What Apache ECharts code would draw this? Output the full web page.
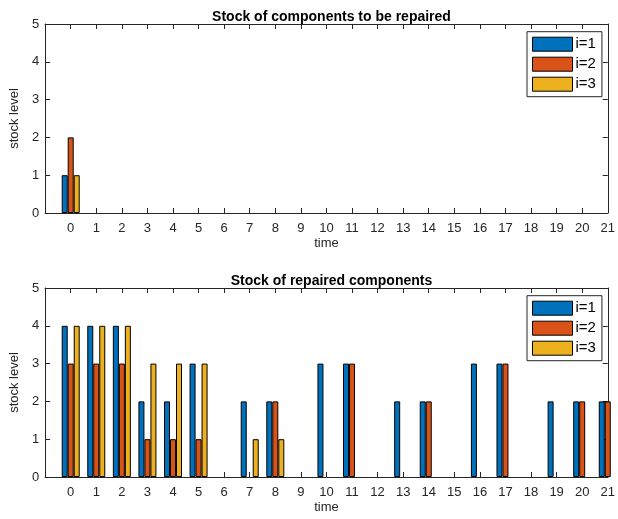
<!DOCTYPE html>
<html>
<head>
<meta charset="utf-8">
<script src="https://cdn.jsdelivr.net/npm/echarts@6/dist/echarts.min.js"></script>
<style>html,body{margin:0;padding:0;background:#fff}#c{width:618px;height:519px}</style>
</head>
<body>
<div id="c"></div>
<script>
var times = [0,1,2,3,4,5,6,7,8,9,10,11,12,13,14,15,16,17,18,19,20,21];
var seriesNames = ['i=1','i=2','i=3'];
var colors = ['#0072BD','#D95319','#EDB120'];
// Stock of components to be repaired
var toRepair1 = [1,0,0,0,0,0,0,0,0,0,0,0,0,0,0,0,0,0,0,0,0,0];
var toRepair2 = [2,0,0,0,0,0,0,0,0,0,0,0,0,0,0,0,0,0,0,0,0,0];
var toRepair3 = [1,0,0,0,0,0,0,0,0,0,0,0,0,0,0,0,0,0,0,0,0,0];
// Stock of repaired components
var repaired1 = [4,4,4,2,2,3,0,2,2,0,3,3,0,2,2,0,3,3,0,2,2,2];
var repaired2 = [3,3,3,1,1,1,0,0,2,0,0,3,0,0,2,0,0,3,0,0,2,2];
var repaired3 = [4,4,4,3,3,3,0,1,1,0,0,0,0,0,0,0,0,0,0,0,0,0];
var titles = ['Stock of components to be repaired','Stock of repaired components'];

var font = 'Liberation Sans, Arial, Helvetica, sans-serif';
var ink = '#262626';
var grids = [{left:40, top:24, width:573.7, height:189},{left:40, top:288, width:573.7, height:189}];

// zero-height bars are left out (they draw nothing visible in the reference)
function pairs(vals){
  return times.map(function(t,i){ return [t, vals[i]]; })
              .filter(function(p){ return p[1] !== 0; });
}

var xAxes = [], yAxes = [], series = [], legends = [], titleArr = [];
[0,1].forEach(function(g){
  xAxes.push({
    gridIndex:g, type:'value', min:-1, max:21, interval:1, position:'bottom',
    name:'time', nameLocation:'middle', nameGap:24,
    nameTextStyle:{color:ink, fontSize:13, fontFamily:font},
    axisLine:{show:true, onZero:false, lineStyle:{color:ink, width:1}},
    axisTick:{show:true, inside:true, length:5, lineStyle:{color:ink}},
    axisLabel:{color:ink, fontSize:13, fontFamily:font, margin:9, showMaxLabel:true,
      formatter:function(v){ return v < 0 ? '' : String(v); }},
    splitLine:{show:false}
  });
  xAxes.push({
    gridIndex:g, type:'value', min:-1, max:21, interval:1, position:'top',
    axisLine:{show:true, onZero:false, lineStyle:{color:ink, width:1}},
    axisTick:{show:true, inside:true, length:5, lineStyle:{color:ink}},
    axisLabel:{show:false}, splitLine:{show:false}
  });
  yAxes.push({
    gridIndex:g, type:'value', min:0, max:5, interval:1, position:'left',
    name:'stock level', nameLocation:'middle', nameGap:19,
    nameTextStyle:{color:ink, fontSize:13, fontFamily:font},
    axisLine:{show:true, onZero:false, lineStyle:{color:ink, width:1}},
    axisTick:{show:true, inside:true, length:5, lineStyle:{color:ink}},
    axisLabel:{color:ink, fontSize:13, fontFamily:font, margin:6},
    splitLine:{show:false}
  });
  yAxes.push({
    gridIndex:g, type:'value', min:0, max:5, interval:1, position:'right',
    axisLine:{show:true, onZero:false, lineStyle:{color:ink, width:1}},
    axisTick:{show:true, inside:true, length:5, lineStyle:{color:ink}},
    axisLabel:{show:false}, splitLine:{show:false}
  });
  titleArr.push({
    text:titles[g], left:326.5, top:grids[g].top - 19, textAlign:'center',
    textStyle:{color:'#000', fontSize:14, fontWeight:'bold', fontFamily:font}
  });
  legends.push({
    data:seriesNames, orient:'vertical', left:527, top:grids[g].top + 7.7,
    icon:'rect', itemWidth:40, itemHeight:14, itemGap:5,
    padding:[5,6,5,5], borderColor:ink, borderWidth:1, backgroundColor:'#fff',
    itemStyle:{borderColor:'#000', borderWidth:1},
    textStyle:{color:'#000', fontSize:15, lineHeight:15, fontFamily:font, padding:[0,0,0,-2]},
    selectedMode:false
  });
});

var sets = [[toRepair1,toRepair2,toRepair3],[repaired1,repaired2,repaired3]];
sets.forEach(function(arrs,g){
  arrs.forEach(function(vals,k){
    series.push({
      type:'bar', name:seriesNames[k], xAxisIndex:g*2, yAxisIndex:g*2,
      data:pairs(vals), barWidth:6, barGap:'0%', clip:true,
      itemStyle:{color:colors[k], borderColor:'#000', borderWidth:1},
      emphasis:{disabled:true}, animation:false
    });
  });
});

var chart = echarts.init(document.getElementById('c'), null, {renderer:'canvas'});
chart.setOption({
  animation:false,
  title:titleArr, grid:grids, xAxis:xAxes, yAxis:yAxes, legend:legends, series:series
});
</script>
</body>
</html>
